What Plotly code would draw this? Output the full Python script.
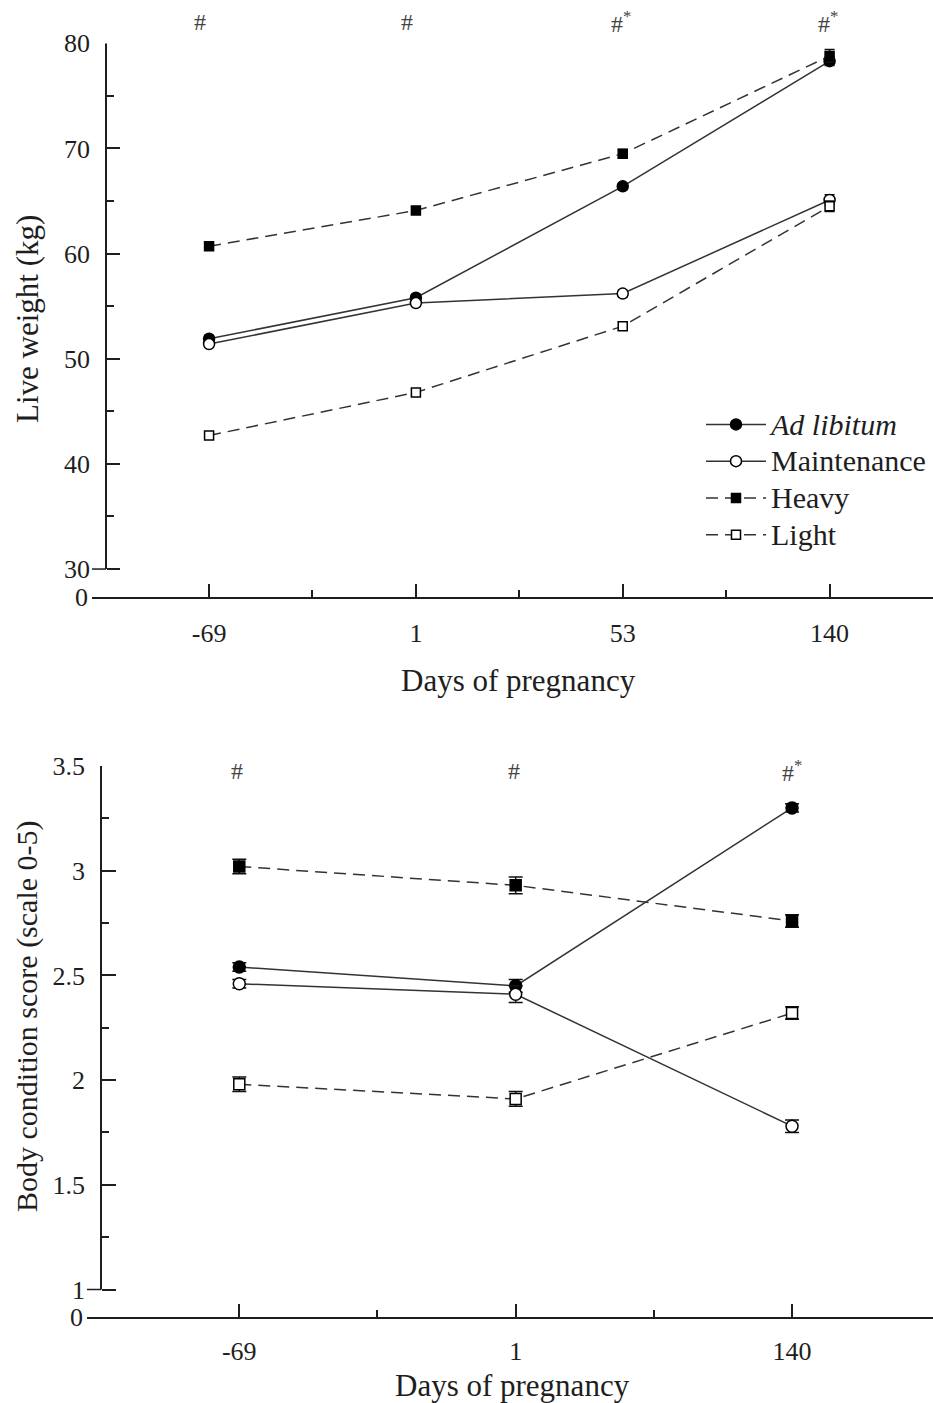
import plotly.graph_objects as go

W, H = 933, 1403

# ---------------- data ----------------
top_days = ['-69', '1', '53', '140']
bot_days = ['-69', '1', '140']

lw_adlib = [51.9, 55.8, 66.4, 78.3]
lw_maint = [51.4, 55.3, 56.2, 65.1]
lw_heavy = [60.7, 64.1, 69.5, 78.8]
lw_light = [42.7, 46.8, 53.1, 64.5]
lw_adlib_se = [0.3, 0.3, 0.3, 0.4]
lw_maint_se = [0.3, 0.3, 0.3, 0.5]
lw_heavy_se = [0.3, 0.3, 0.4, 0.6]
lw_light_se = [0.3, 0.3, 0.4, 0.5]

bcs_adlib = [2.54, 2.45, 3.30]
bcs_maint = [2.46, 2.41, 1.78]
bcs_heavy = [3.02, 2.93, 2.76]
bcs_light = [1.98, 1.91, 2.32]
bcs_adlib_se = [0.02, 0.03, 0.02]
bcs_maint_se = [0.02, 0.04, 0.03]
bcs_heavy_se = [0.035, 0.04, 0.03]
bcs_light_se = [0.035, 0.035, 0.03]

top_marks = ['#', '#', '#<sup>*</sup>', '#<sup>*</sup>']
bot_marks = ['#', '#', '#<sup>*</sup>']

top_yticks = [30, 40, 50, 60, 70, 80]
top_yminor = [35, 45, 55, 65, 75]
bot_yticks = [1, 1.5, 2, 2.5, 3, 3.5]
bot_yticktext = ['1', '1.5', '2', '2.5', '3', '3.5']
bot_yminor = [1.25, 1.75, 2.25, 2.75, 3.25]

series_names = ['<i>Ad libitum</i>', 'Maintenance', 'Heavy', 'Light']
series_styles = [
    ('solid', 'circle', 'black'),
    ('solid', 'circle', 'white'),
    ('12px,7px', 'square', 'black'),
    ('12px,7px', 'square', 'white'),
]

FONT = 'Liberation Serif'
INK = '#1e1e1e'
LINE = '#333333'


def fnt(size, color=INK):
    return dict(family=FONT, size=size, color=color)


fig = go.Figure()

top_vals = [lw_adlib, lw_maint, lw_heavy, lw_light]
top_se = [lw_adlib_se, lw_maint_se, lw_heavy_se, lw_light_se]
bot_vals = [bcs_adlib, bcs_maint, bcs_heavy, bcs_light]
bot_se = [bcs_adlib_se, bcs_maint_se, bcs_heavy_se, bcs_light_se]

tx = list(range(len(top_days)))
bx = list(range(len(bot_days)))

for name, (dash, sym, fill), v, se in zip(series_names, series_styles, top_vals, top_se):
    fig.add_trace(go.Scatter(
        x=tx, y=v, name='<span style="font-size:30px">' + name + '</span>',
        mode='lines+markers', xaxis='x', yaxis='y',
        line=dict(color=LINE, width=1.5, dash=dash),
        marker=dict(symbol=sym, size=11 if sym == 'circle' else 9, color=fill,
                    line=dict(color='black', width=1.5)),
        error_y=dict(type='data', array=se, color='#111', thickness=1.5, width=5),
        cliponaxis=False, showlegend=True))

for name, (dash, sym, fill), v, se in zip(series_names, series_styles, bot_vals, bot_se):
    fig.add_trace(go.Scatter(
        x=bx, y=v, name=name, mode='lines+markers', xaxis='x2', yaxis='y2',
        line=dict(color=LINE, width=1.5, dash=dash),
        marker=dict(symbol=sym, size=12 if sym == 'circle' else 11, color=fill,
                    line=dict(color='black', width=1.5)),
        error_y=dict(type='data', array=se, color='#111', thickness=1.5, width=7),
        cliponaxis=False, showlegend=False))

# geometry (pixels -> paper)
top_axis_x = 106
top_x_left = 92
top_y_bottom_px, top_y80_px = 597, 43.3
top_ymin = 30 - (top_y_bottom_px - 569) / 10.53

bot_axis_x = 101
bot_x_left = 87
bot_y_bottom_px, bot_y35_px = 1317, 766
bot_ymin = 1 - (bot_y_bottom_px - 1289.5) / 209.4

fig.update_layout(
    width=W, height=H, autosize=False,
    margin=dict(l=0, r=0, t=0, b=0, pad=0, autoexpand=False),
    font=fnt(26),
    paper_bgcolor='white', plot_bgcolor='white',
    showlegend=True,
    legend=dict(x=701 / W, y=1 - 401 / H, xanchor='left', yanchor='top',
                font=fnt(26), itemwidth=60,
                bgcolor='rgba(0,0,0,0)', tracegroupgap=0),
    xaxis=dict(domain=[top_x_left / W, 1], range=[-0.566, 3.5], anchor='y',
               showline=True, linewidth=2, linecolor=INK, showgrid=False, zeroline=False,
               ticks='inside', ticklen=13, tickwidth=1.5, tickcolor=INK,
               tickvals=tx, ticktext=top_days, tickfont=fnt(26), ticklabelstandoff=12,
               minor=dict(ticks='inside', ticklen=7, tickwidth=1.5, tickcolor=INK,
                          tickvals=[0.5, 1.5, 2.5], showgrid=False)),
    yaxis=dict(domain=[1 - top_y_bottom_px / H, 1 - top_y80_px / H],
               range=[top_ymin, 80], anchor='free', position=top_axis_x / W,
               showline=False, showgrid=False, zeroline=False,
               ticks='inside', ticklen=13, tickwidth=1.5, tickcolor=INK,
               tickvals=top_yticks, tickfont=fnt(26), ticklabelstandoff=16,
               minor=dict(ticks='inside', ticklen=7, tickwidth=1.5, tickcolor=INK,
                          tickvals=top_yminor, showgrid=False)),
    xaxis2=dict(domain=[bot_x_left / W, 1], range=[-0.551, 2.51], anchor='y2',
                showline=True, linewidth=2, linecolor=INK, showgrid=False, zeroline=False,
                ticks='inside', ticklen=13, tickwidth=1.5, tickcolor=INK,
                tickvals=bx, ticktext=bot_days, tickfont=fnt(26), ticklabelstandoff=10,
                minor=dict(ticks='inside', ticklen=7, tickwidth=1.5, tickcolor=INK,
                           tickvals=[0.5, 1.5], showgrid=False)),
    yaxis2=dict(domain=[1 - bot_y_bottom_px / H, 1 - bot_y35_px / H],
                range=[bot_ymin, 3.5], anchor='free', position=bot_axis_x / W,
                showline=False, showgrid=False, zeroline=False,
                ticks='inside', ticklen=14, tickwidth=1.5, tickcolor=INK,
                tickvals=bot_yticks, ticktext=bot_yticktext, tickfont=fnt(26),
                ticklabelstandoff=16,
                minor=dict(ticks='inside', ticklen=7, tickwidth=1.5, tickcolor=INK,
                           tickvals=bot_yminor, showgrid=False)),
)

shapes = [
    # y axis lines (broken axis: they stop at the lowest tick)
    dict(type='line', xref='paper', yref='y', x0=top_axis_x / W, x1=top_axis_x / W,
         y0=top_yticks[0], y1=top_yticks[-1], line=dict(color=INK, width=2)),
    dict(type='line', xref='paper', yref='y2', x0=bot_axis_x / W, x1=bot_axis_x / W,
         y0=bot_yticks[0], y1=bot_yticks[-1], line=dict(color=INK, width=2)),
    # left halves of the lowest ticks
    dict(type='line', xref='paper', yref='y', x0=(top_axis_x - 14) / W, x1=top_axis_x / W,
         y0=top_yticks[0], y1=top_yticks[0], line=dict(color=INK, width=1.5)),
    dict(type='line', xref='paper', yref='y2', x0=(bot_axis_x - 14) / W, x1=bot_axis_x / W,
         y0=bot_yticks[0], y1=bot_yticks[0], line=dict(color=INK, width=1.5)),
]
fig.update_layout(shapes=shapes)

ann = []
# "0" labels at the axis origin
ann.append(dict(text='0', xref='paper', yref='y', x=(top_x_left - 2) / W, y=top_ymin,
                xanchor='right', yanchor='middle', showarrow=False, font=fnt(26)))
ann.append(dict(text='0', xref='paper', yref='y2', x=(bot_x_left - 2) / W, y=bot_ymin,
                xanchor='right', yanchor='middle', showarrow=False, font=fnt(26)))
# axis titles
ann.append(dict(text='Days of pregnancy', xref='paper', yref='paper', x=518 / W, y=1 - 680 / H,
                xanchor='center', yanchor='middle', showarrow=False, font=fnt(31)))
ann.append(dict(text='Days of pregnancy', xref='paper', yref='paper', x=512 / W, y=1 - 1385 / H,
                xanchor='center', yanchor='middle', showarrow=False, font=fnt(31)))
ann.append(dict(text='Live weight (kg)', xref='paper', yref='paper', x=27 / W, y=1 - 319 / H,
                xanchor='center', yanchor='middle', textangle=-90, showarrow=False,
                font=fnt(31)))
ann.append(dict(text='Body condition score (scale 0-5)', xref='paper', yref='paper', x=27 / W,
                y=1 - 1016 / H, xanchor='center', yanchor='middle', textangle=-90,
                showarrow=False, font=fnt(30)))
# significance marks
for i, t in enumerate(top_marks):
    ann.append(dict(text=t, xref='x', yref='paper', x=tx[i], y=1 - 22 / H,
                    xshift=-9 if t == '#' else -2, xanchor='center', yanchor='middle',
                    showarrow=False, font=fnt(24, '#444')))
for i, t in enumerate(bot_marks):
    ann.append(dict(text=t, xref='x2', yref='paper', x=bx[i], y=1 - 771 / H,
                    xshift=-2 if t == '#' else 0, xanchor='center', yanchor='middle',
                    showarrow=False, font=fnt(24, '#444')))
fig.update_layout(annotations=ann)

fig.write_html('out.html')
